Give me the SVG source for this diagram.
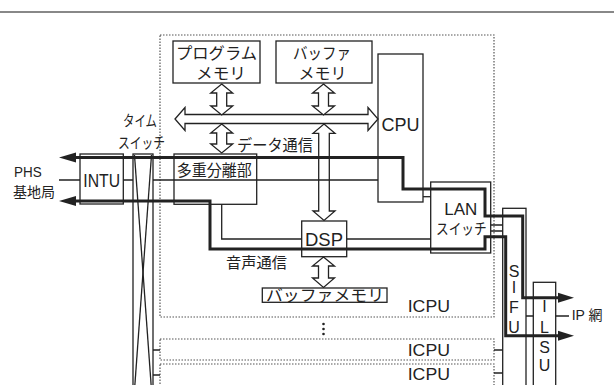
<svg xmlns="http://www.w3.org/2000/svg" width="614" height="385" viewBox="0 0 614 385">
<style>
.box{fill:#fff;stroke:#222;stroke-width:1.3}
.dot{fill:none;stroke:#555;stroke-width:1.2;stroke-dasharray:1.5 1.5}
.thin{fill:none;stroke:#222;stroke-width:1.3}
.thick{fill:none;stroke:#222;stroke-width:3}
.arr{fill:#fff;stroke:#222;stroke-width:1.3;stroke-linejoin:miter}
.head{fill:#222;stroke:none}
.lat{font-family:"Liberation Sans",Arial,sans-serif;fill:#222}
.jp{font-family:"Noto Sans CJK JP","Noto Sans CJK SC",sans-serif;fill:#222}
</style>
<rect width="614" height="385" fill="#fff"/>
<line x1="0" y1="12" x2="614" y2="12" stroke="#888" stroke-width="2"/>

<g id="icpu-main">
<rect class="dot" x="160" y="35" width="334" height="282"/>
<text class="lat" x="407.7" y="311.7" font-size="17" textLength="42.3" lengthAdjust="spacingAndGlyphs">ICPU</text>
</g>
<g id="icpu-2">
<rect class="dot" x="160" y="339" width="334" height="21"/>
<text class="lat" x="407.7" y="356" font-size="17" textLength="42.3" lengthAdjust="spacingAndGlyphs">ICPU</text>
</g>
<g id="icpu-3">
<rect class="dot" x="160" y="364" width="334" height="30"/>
<text class="lat" x="407.7" y="380" font-size="17" textLength="42.3" lengthAdjust="spacingAndGlyphs">ICPU</text>
</g>
<g id="ellipsis">
<circle cx="323.5" cy="324" r="1.3" fill="#222"/>
<circle cx="323.5" cy="329" r="1.3" fill="#222"/>
<circle cx="323.5" cy="334" r="1.3" fill="#222"/>
</g>

<g id="program-memory">
<rect class="box" x="173" y="41" width="87" height="42"/>
<text class="jp" x="216.5" y="59" font-size="16" text-anchor="middle" textLength="81" lengthAdjust="spacingAndGlyphs">プログラム</text>
<text class="jp" x="221" y="79" font-size="16" text-anchor="middle" textLength="50" lengthAdjust="spacingAndGlyphs">メモリ</text>
</g>
<g id="buffer-memory">
<rect class="box" x="276" y="41" width="96" height="42"/>
<text class="jp" x="322" y="59" font-size="16" text-anchor="middle" textLength="58" lengthAdjust="spacingAndGlyphs">バッファ</text>
<text class="jp" x="322.5" y="79" font-size="16" text-anchor="middle" textLength="48" lengthAdjust="spacingAndGlyphs">メモリ</text>
</g>
<g id="cpu">
<rect class="box" x="378" y="54" width="45" height="148"/>
<text class="lat" x="381.5" y="131" font-size="18" textLength="38" lengthAdjust="spacingAndGlyphs">CPU</text>
</g>

<g id="arrows">
<polygon class="arr" points="175,119 185,107.5 185,114.5 368,114.5 368,107.5 378,119 368,130.5 368,123.5 185,123.5 185,130.5"/>
<polygon class="arr" points="221.7,84 232.7,93 226.7,93 226.7,106 232.7,106 221.7,115 210.7,106 216.7,106 216.7,93 210.7,93"/>
<polygon class="arr" points="323.5,84 334.5,93 328.5,93 328.5,106 334.5,106 323.5,115 312.5,106 318.5,106 318.5,93 312.5,93"/>
<polygon class="arr" points="221.7,124 232.7,133 226.7,133 226.7,144 232.7,144 221.7,153 210.7,144 216.7,144 216.7,133 210.7,133"/>
<polygon class="arr" points="324,124 335,133.3 329.3,133.3 329.3,211 335,211 324,220.5 313,211 318.7,211 318.7,133.3 313,133.3"/>
<polygon class="arr" points="323.5,257 334.5,266 328.5,266 328.5,278 334.5,278 323.5,287.5 312.5,278 318.5,278 318.5,266 312.5,266"/>
</g>

<g id="intu">
<rect class="box" x="80" y="154" width="43.3" height="50"/>
<text class="lat" x="83.3" y="186.7" font-size="18" textLength="36.7" lengthAdjust="spacingAndGlyphs">INTU</text>
</g>
<g id="time-switch">
<rect class="box" x="133" y="154" width="20" height="240"/>
<line class="thin" x1="134.5" y1="155" x2="151.5" y2="390"/>
<line class="thin" x1="151.5" y1="155" x2="134.5" y2="390"/>
<text class="jp" x="140" y="126" font-size="15" text-anchor="middle" textLength="34" lengthAdjust="spacingAndGlyphs">タイム</text>
<text class="jp" x="141.5" y="147.5" font-size="15" text-anchor="middle" textLength="47" lengthAdjust="spacingAndGlyphs">スイッチ</text>
</g>
<g id="demux">
<rect class="box" x="174" y="154" width="82.7" height="50.3"/>
<text class="jp" x="176.7" y="176" font-size="15.5" textLength="75" lengthAdjust="spacingAndGlyphs">多重分離部</text>
</g>
<g id="dsp">
<rect class="box" x="301.7" y="221" width="45" height="35.7"/>
<text class="lat" x="305" y="246" font-size="18" textLength="38" lengthAdjust="spacingAndGlyphs">DSP</text>
</g>
<g id="voice-buffer">
<rect class="box" x="262.3" y="288" width="124.7" height="14.3"/>
<text class="jp" x="266" y="300.5" font-size="16" textLength="118" lengthAdjust="spacingAndGlyphs">バッファメモリ</text>
</g>
<g id="lan-switch">
<rect class="box" x="430.7" y="182" width="60" height="71"/>
<text class="lat" x="444.3" y="215" font-size="17" textLength="33" lengthAdjust="spacingAndGlyphs">LAN</text>
<text class="jp" x="436" y="233.5" font-size="15" textLength="50.7" lengthAdjust="spacingAndGlyphs">スイッチ</text>
</g>
<g id="sifu">
<rect class="box" x="502.7" y="208.3" width="23.3" height="190"/>
<text class="lat" x="514" y="276.7" font-size="16" text-anchor="middle">S</text>
<text class="lat" x="514" y="293.3" font-size="16" text-anchor="middle">I</text>
<text class="lat" x="514" y="312.7" font-size="16" text-anchor="middle">F</text>
<text class="lat" x="514" y="333.3" font-size="16" text-anchor="middle">U</text>
</g>
<g id="ilsu">
<rect class="box" x="533.3" y="282.3" width="22.4" height="120"/>
<text class="lat" x="544.5" y="311.7" font-size="16" text-anchor="middle">I</text>
<text class="lat" x="544.5" y="333.3" font-size="16" text-anchor="middle">L</text>
<text class="lat" x="544.5" y="353.3" font-size="16" text-anchor="middle">S</text>
<text class="lat" x="544.5" y="371" font-size="16" text-anchor="middle">U</text>
</g>
<g id="phs">
<text class="lat" x="14" y="176.7" font-size="14" textLength="27.7" lengthAdjust="spacingAndGlyphs">PHS</text>
<text class="jp" x="13" y="197" font-size="14" textLength="42" lengthAdjust="spacingAndGlyphs">基地局</text>
</g>
<g id="ip-net">
<text class="lat" x="571.7" y="320" font-size="14">IP <tspan font-family="Noto Sans CJK JP,sans-serif">網</tspan></text>
</g>

<g id="connectors">
<path class="thin" d="M59 180H80M123.3 180H133M153 180H378"/>
<path class="thin" d="M221.7 204.3V239H301.7"/>
<path class="thin" d="M346.7 239H430.7"/>
<path class="thin" d="M423 196.7H430.7"/>
<path class="thin" d="M490.7 225H502.7M490.7 231H502.7"/>
<path class="thin" d="M494 350H502.7M494 373H502.7"/>
<path class="thin" d="M153 350H160M153 375H160"/>
<path class="thin" d="M526 316H533.3M555.7 316H569"/>
<path class="thick" d="M74 157.5H403V189H485V216H522.7V297.7H560"/>
<path class="thick" d="M74 201H210V249H485V236.7H505.7V335.7H560"/>
<polygon class="head" points="59,157.5 76,152.5 76,162.5"/>
<polygon class="head" points="59,201 76,196 76,206"/>
<polygon class="head" points="574,297.7 558,292.7 558,302.7"/>
<polygon class="head" points="574,335.7 558,330.7 558,340.7"/>
</g>
<text class="jp" x="237" y="151" font-size="15.5" textLength="76" lengthAdjust="spacingAndGlyphs">データ通信</text>
<text class="jp" x="226" y="268" font-size="15" textLength="61" lengthAdjust="spacingAndGlyphs">音声通信</text>
</svg>
